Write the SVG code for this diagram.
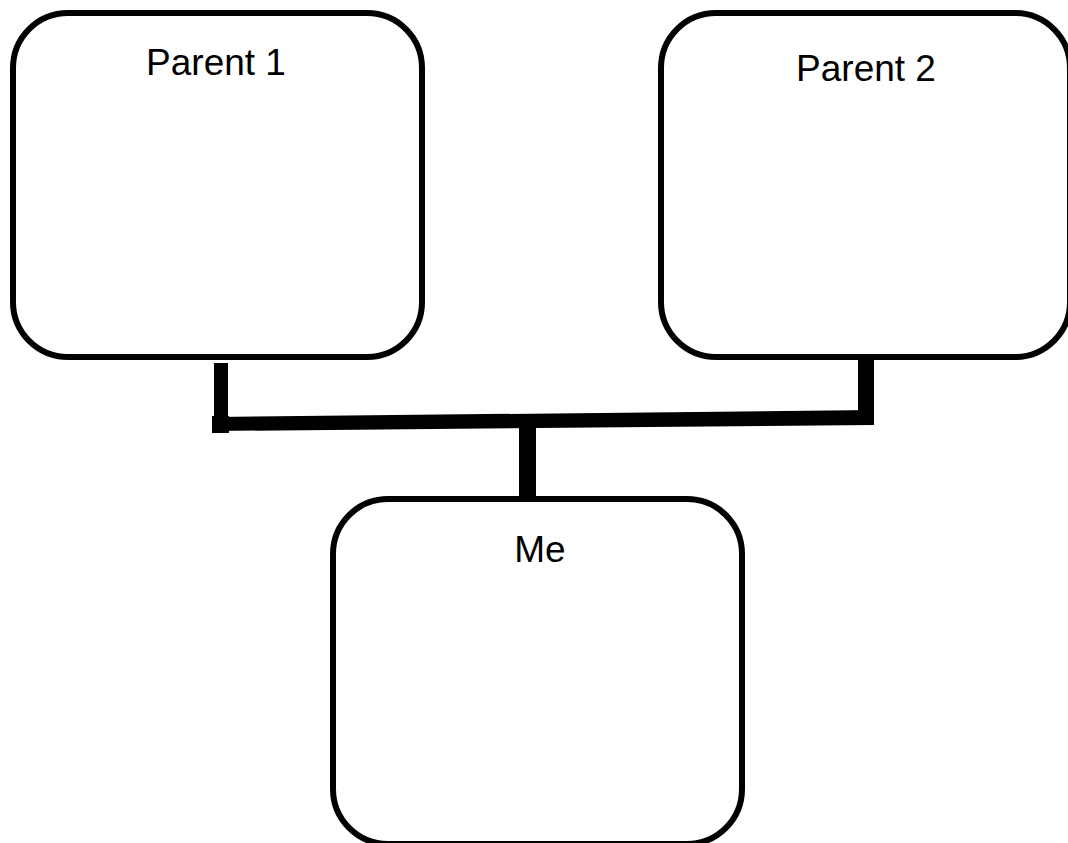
<svg xmlns="http://www.w3.org/2000/svg" width="1068" height="843" viewBox="0 0 1068 843">
<style>
.box{fill:#fff;stroke:#000;stroke-width:6}
.lbl{font-family:"Liberation Sans",Arial,sans-serif;font-size:37px;fill:#000;text-anchor:middle}
.bar{fill:#000}
</style>
<rect width="1068" height="843" fill="#fff"/>
<g id="parent1">
<rect class="box" x="13" y="13" width="409" height="344" rx="55" ry="55"/>
<text class="lbl" x="216" y="75">Parent 1</text>
</g>
<g id="parent2">
<rect class="box" x="661" y="13" width="409" height="344" rx="55" ry="55"/>
<text class="lbl" x="866" y="81">Parent 2</text>
</g>
<g id="me">
<rect class="box" x="333" y="499" width="409" height="345" rx="55" ry="55"/>
<text class="lbl" x="540" y="562">Me</text>
</g>
<g id="connectors">
<rect class="bar" x="214" y="363" width="14" height="68"/>
<rect class="bar" x="212" y="416" width="17" height="17"/>
<polygon class="bar" points="214,417 874,410 874,425 214,431"/>
<rect class="bar" x="858" y="357" width="16" height="68"/>
<rect class="bar" x="519" y="424" width="17" height="73"/>
</g>
</svg>
